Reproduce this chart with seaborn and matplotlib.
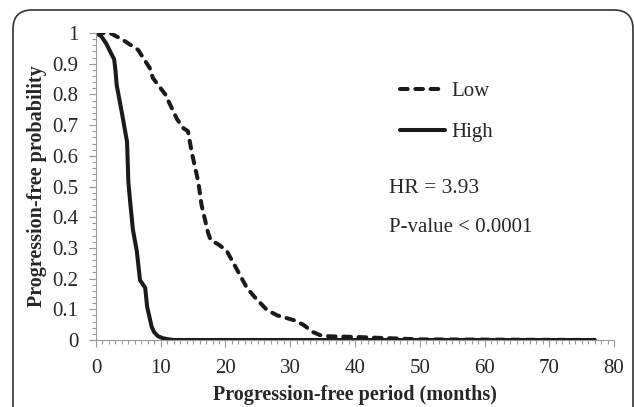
import numpy as np
import pandas as pd
import matplotlib
matplotlib.use("Agg")
import matplotlib.pyplot as plt
import seaborn as sns
from matplotlib.patches import FancyBboxPatch
from matplotlib.ticker import MultipleLocator

# Kaplan-Meier style curves
x_low = [0, 2.2, 4.2, 6.5, 8.3, 8.8, 10.7, 12.5, 13.5, 14.2, 14.8, 15.8, 16.3,
         17.3, 17.7, 19, 20.2, 21.5, 23.3, 24.5, 26.4, 28, 30.5, 32, 33.5,
         34.6, 36, 40, 45, 50, 77]
y_low = [1, 1, 0.977, 0.945, 0.886, 0.853, 0.80, 0.72, 0.69, 0.68, 0.61, 0.515,
         0.44, 0.35, 0.326, 0.31, 0.29, 0.24, 0.17, 0.14, 0.098, 0.08, 0.065,
         0.05, 0.026, 0.016, 0.012, 0.01, 0.006, 0.002, 0.0]

x_high = [0, 0.8, 1.6, 2.3, 2.8, 3.0, 3.2, 4, 4.8, 5.0, 5.25, 5.7, 6.3, 6.8,
          7.6, 7.9, 8.6, 9.0, 9.6, 10.3, 11, 12, 77]
y_high = [1, 0.99, 0.965, 0.935, 0.915, 0.88, 0.83, 0.74, 0.645, 0.515, 0.456,
          0.36, 0.29, 0.195, 0.17, 0.108, 0.043, 0.025, 0.012, 0.006, 0.003, 0, 0]

groups = ["Low", "High"]

df = pd.concat([
    pd.DataFrame({"months": x_low, "prob": y_low, "group": groups[0]}),
    pd.DataFrame({"months": x_high, "prob": y_high, "group": groups[1]}),
], ignore_index=True)

sns.set_style("white")
plt.rcParams["font.family"] = ["Liberation Serif", "DejaVu Serif"]

fig = plt.figure(figsize=(6.34, 4.07), dpi=100)
ax = fig.add_axes([0.1514, 0.1646, 0.8171, 0.7543])

sns.lineplot(data=df, x="months", y="prob", hue="group", style="group",
             hue_order=groups, style_order=groups,
             palette={"Low": "#1a1a1a", "High": "#1a1a1a"},
             dashes={"Low": (1.9, 1.9), "High": ""},
             linewidth=2.9, sort=False, estimator=None, ax=ax)

for line in ax.get_lines():
    line.set_dash_capstyle("round")
    line.set_solid_capstyle("round")
    line.set_solid_joinstyle("round")

ax.set_xlim(0, 80)
ax.set_ylim(0, 1)
ax.xaxis.set_major_locator(MultipleLocator(10))
ax.xaxis.set_minor_locator(MultipleLocator(1))
ax.yaxis.set_minor_locator(MultipleLocator(0.02))
ax.set_yticks(np.round(np.arange(0, 1.01, 0.1), 1))
ax.set_yticklabels(["0"] + [f"{v:.1f}" for v in np.arange(0.1, 0.95, 0.1)] + ["1"])

ax.tick_params(axis="both", which="major", direction="out", length=5,
               width=0.8, color="#999999", labelsize=15)
ax.tick_params(axis="x", which="major", pad=9)
ax.tick_params(axis="y", which="major", pad=7.5)
ax.tick_params(axis="both", which="minor", direction="out", length=3,
               width=0.8, color="#999999")
ax.tick_params(axis="x", which="both", bottom=True)
ax.tick_params(axis="y", which="both", left=True)

for side in ["top", "right"]:
    ax.spines[side].set_visible(False)
for side in ["left", "bottom"]:
    ax.spines[side].set_color("#999999")
    ax.spines[side].set_linewidth(0.8)

ax.set_xlabel("Progression-free period (months)", fontsize=14.5,
              fontweight="bold", labelpad=5)
ax.set_ylabel("Progression-free probability", fontsize=14.5,
              fontweight="bold", labelpad=4)

leg = ax.legend(title=None, frameon=False, loc="upper left",
                bbox_to_anchor=(0.57, 0.87), handlelength=2.2,
                handletextpad=0.3, labelspacing=1.05, fontsize=15,
                borderaxespad=0)
for h in leg.get_lines():
    h.set_linewidth(2.9)

ax.text(0.565, 0.495, "HR = 3.93", transform=ax.transAxes, fontsize=15.5,
        va="center", ha="left")
ax.text(0.565, 0.365, "P-value < 0.0001", transform=ax.transAxes,
        fontsize=15, va="center", ha="left")

# rounded outer frame, cut off at the bottom
frame = FancyBboxPatch((13 / 634, -0.2), (633 - 13) / 634, 1.2 - 10 / 407,
                       boxstyle="round,pad=0,rounding_size=0.03",
                       transform=fig.transFigure, fill=False,
                       edgecolor="#333333", linewidth=1.2,
                       mutation_aspect=634 / 407)
fig.patches.append(frame)

fig.savefig("out.png", dpi=100)
